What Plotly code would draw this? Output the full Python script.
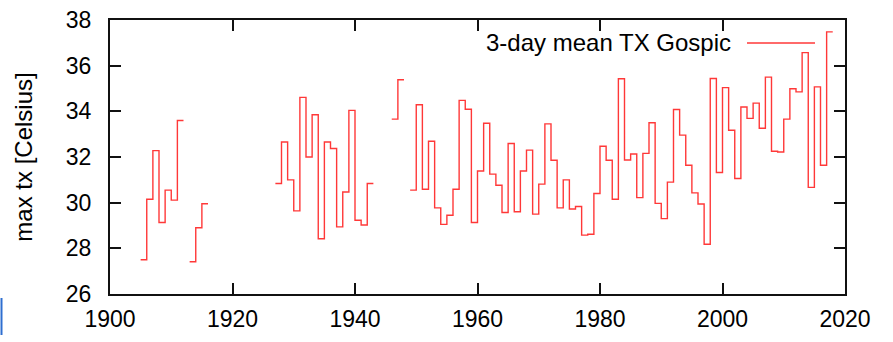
import plotly.graph_objects as go

# ---- data ----
years = list(range(1905, 2018))
tx_by_year = {
    1905: 27.50, 1906: 30.15, 1907: 32.28, 1908: 29.13, 1909: 30.55, 1910: 30.11, 1911: 33.60,
    1913: 27.41, 1914: 28.90, 1915: 29.95,
    1927: 30.84, 1928: 32.66, 1929: 31.00, 1930: 29.64, 1931: 34.61, 1932: 32.00, 1933: 33.85,
    1934: 28.42, 1935: 32.66, 1936: 32.37, 1937: 28.94, 1938: 30.47, 1939: 34.04, 1940: 29.23,
    1941: 29.02, 1942: 30.84,
    1946: 33.66, 1947: 35.38,
    1949: 30.55, 1950: 34.29, 1951: 30.59, 1952: 32.69, 1953: 29.77, 1954: 29.05, 1955: 29.45,
    1956: 30.59, 1957: 34.48, 1958: 34.09, 1959: 29.13, 1960: 31.39, 1961: 33.48, 1962: 31.25,
    1963: 30.76, 1964: 29.57, 1965: 32.59, 1966: 29.60, 1967: 31.39, 1968: 32.30, 1969: 29.50,
    1970: 30.81, 1971: 33.45, 1972: 31.86, 1973: 29.77, 1974: 31.00, 1975: 29.72, 1976: 29.83,
    1977: 28.58, 1978: 28.62, 1979: 30.40, 1980: 32.47, 1981: 31.86, 1982: 30.15, 1983: 35.43,
    1984: 31.87, 1985: 32.13, 1986: 30.22, 1987: 32.16, 1988: 33.50, 1989: 29.97, 1990: 29.30,
    1991: 30.90, 1992: 34.08, 1993: 32.96, 1994: 31.64, 1995: 30.43, 1996: 29.94, 1997: 28.18,
    1998: 35.44, 1999: 31.32, 2000: 35.04, 2001: 33.17, 2002: 31.06, 2003: 34.19, 2004: 33.69,
    2005: 34.36, 2006: 33.26, 2007: 35.50, 2008: 32.25, 2009: 32.22, 2010: 33.66, 2011: 34.99,
    2012: 34.85, 2013: 36.57, 2014: 30.67, 2015: 35.07, 2016: 31.64, 2017: 37.48,
}
tx = [tx_by_year.get(y) for y in years]

x_ticks = [1900, 1920, 1940, 1960, 1980, 2000, 2020]
y_ticks = [26, 28, 30, 32, 34, 36, 38]
series_name = "3-day mean TX Gospic"
y_title = "max tx [Celsius]"

# ---- build step path (each value holds for one year) ----
xs, ys = [], []
for i, (yr, v) in enumerate(zip(years, tx)):
    if v is None:
        continue
    xs.append(yr)
    ys.append(v)
    nxt = tx[i + 1] if i + 1 < len(tx) else None
    if nxt is None:
        xs.append(yr + 1)
        ys.append(v)
        xs.append(None)
        ys.append(None)

LINE_COLOR = "rgba(255,0,0,0.78)"
FONT = "Liberation Sans, Arial, Helvetica, sans-serif"

fig = go.Figure()
fig.add_trace(go.Scatter(
    x=xs, y=ys, mode="lines", line=dict(color=LINE_COLOR, width=1.4, shape="hv"),
    connectgaps=False, name=series_name, showlegend=False, hoverinfo="skip",
))

L, R, T, B = 110, 48, 20, 48
W, H = 893, 342
pw, ph = W - L - R, H - T - B

axis_common = dict(
    showgrid=False, zeroline=False, showline=True, linecolor="#111", linewidth=2,
    mirror="allticks", ticks="inside", ticklen=11, tickwidth=2, tickcolor="#111",
    tickfont=dict(family=FONT, size=23, color="black"), automargin=False,
)
fig.update_xaxes(range=[1900, 2020], tickvals=x_ticks, ticktext=[str(t) for t in x_ticks],
                 ticklabelstandoff=3, **axis_common)
fig.update_yaxes(range=[26, 38], tickvals=y_ticks, ticktext=[str(t) for t in y_ticks],
                 ticklabelstandoff=12,
                 title=dict(text=y_title, font=dict(family=FONT, size=24, color="black"), standoff=26),
                 **axis_common)

def px2paper_x(px):
    return (px - L) / pw

def py2paper_y(py):
    return (H - B - py) / ph

# key (gnuplot style: text then line sample)
fig.add_annotation(x=px2paper_x(733), y=py2paper_y(43), xref="paper", yref="paper",
                   text=series_name, showarrow=False, xanchor="right", yanchor="middle",
                   font=dict(family=FONT, size=24, color="black"))
fig.add_shape(type="line", xref="paper", yref="paper",
              x0=px2paper_x(747), x1=px2paper_x(815), y0=py2paper_y(43), y1=py2paper_y(43),
              line=dict(color=LINE_COLOR, width=1.4))

# small blue crop artifact at bottom-left of reference
fig.add_shape(type="line", xref="paper", yref="paper",
              x0=px2paper_x(1.5), x1=px2paper_x(1.5), y0=py2paper_y(298), y1=py2paper_y(335),
              line=dict(color="#2f6fd0", width=2))

fig.update_layout(
    width=W, height=H, margin=dict(l=L, r=R, t=T, b=B),
    paper_bgcolor="white", plot_bgcolor="white",
    font=dict(family=FONT, size=23, color="black"),
    hovermode=False,
)

fig.write_html("out.html", config={"displayModeBar": False},
               post_script="document.body.style.margin='0px';")
